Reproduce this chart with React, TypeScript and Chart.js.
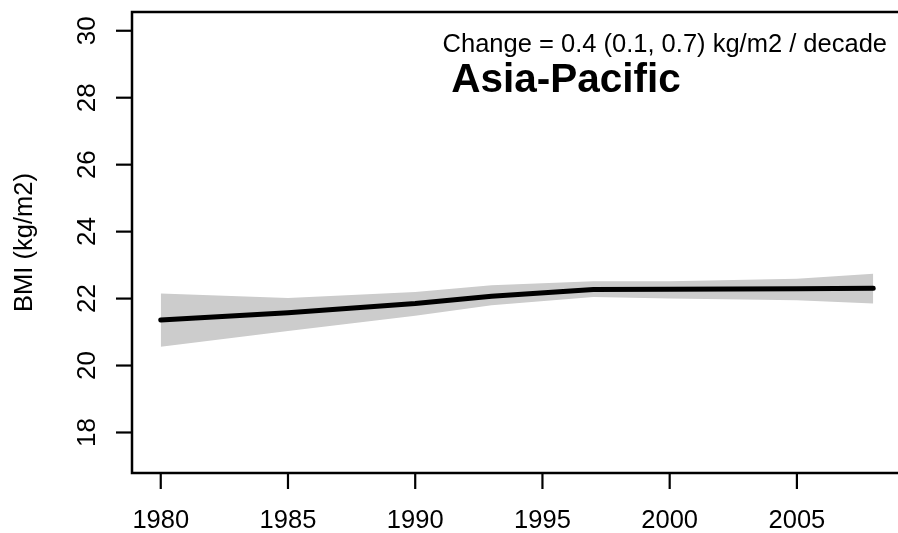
import React, { useEffect, useRef } from "react";
import { Chart, registerables } from "chart.js";

Chart.register(...registerables);

const years = [1980, 1985, 1990, 1993, 1997, 2000, 2005, 2008];
const bmiMean = [21.36, 21.58, 21.85, 22.07, 22.27, 22.28, 22.29, 22.31];
const bmiUpper = [22.15, 22.02, 22.2, 22.4, 22.52, 22.52, 22.59, 22.74];
const bmiLower = [20.56, 21.03, 21.49, 21.8, 22.05, 22.0, 21.95, 21.85];
const xTicks = [1980, 1985, 1990, 1995, 2000, 2005];
const yTicks = [18, 20, 22, 24, 26, 28, 30];
const regionTitle = "Asia-Pacific";
const changeText = "Change = 0.4 (0.1, 0.7) kg/m2 / decade";
const yTitle = "BMI (kg/m2)";

const FONT = "'Liberation Sans', Arial, Helvetica, sans-serif";

const axesPlugin = {
  id: "rAxes",
  afterDraw(chart: any) {
    const { ctx, chartArea } = chart;
    const xs = chart.scales.x;
    const ys = chart.scales.y;
    const { left, right, top, bottom } = chartArea;
    ctx.save();
    ctx.strokeStyle = "#000";
    ctx.fillStyle = "#000";
    ctx.lineWidth = 2.5;
    ctx.lineCap = "butt";
    // box
    ctx.strokeRect(left, top, right - left, bottom - top);
    // y ticks
    ctx.lineWidth = 2.2;
    ctx.textAlign = "center";
    ctx.textBaseline = "middle";
    ctx.font = `26px ${FONT}`;
    yTicks.forEach((v) => {
      const py = ys.getPixelForValue(v);
      ctx.beginPath();
      ctx.moveTo(left - 16, py);
      ctx.lineTo(left, py);
      ctx.stroke();
      ctx.save();
      ctx.translate(left - 45, py);
      ctx.rotate(-Math.PI / 2);
      ctx.fillText(String(v), 0, 1);
      ctx.restore();
    });
    // x ticks
    ctx.font = `25.5px ${FONT}`;
    xTicks.forEach((v) => {
      const px = xs.getPixelForValue(v);
      ctx.beginPath();
      ctx.moveTo(px, bottom);
      ctx.lineTo(px, bottom + 16);
      ctx.stroke();
      ctx.fillText(String(v), px, bottom + 48);
    });
    // y title
    ctx.save();
    ctx.font = `25.5px ${FONT}`;
    ctx.translate(left - 107, (top + bottom) / 2);
    ctx.rotate(-Math.PI / 2);
    ctx.fillText(yTitle, 0, 0);
    ctx.restore();
    // change text
    ctx.font = `25.5px ${FONT}`;
    ctx.textAlign = "right";
    ctx.fillText(changeText, 887, top + 33);
    // region title
    ctx.textAlign = "center";
    ctx.font = `bold 40.5px ${FONT}`;
    ctx.fillText(regionTitle, 566, top + 69);
    ctx.restore();
  },
};

export default function App() {
  const ref = useRef<HTMLCanvasElement | null>(null);
  useEffect(() => {
    if (!ref.current) return;
    const chart = new Chart(ref.current, {
      type: "line",
      data: {
        datasets: [
          {
            label: "BMI",
            data: years.map((x, i) => ({ x, y: bmiMean[i] })),
            borderWidth: 5,
            borderColor: "#000000",
            pointRadius: 0,
            fill: false,
            tension: 0,
            borderCapStyle: "round",
            borderJoinStyle: "round",
            order: 0,
          },
          {
            label: "upper",
            data: years.map((x, i) => ({ x, y: bmiUpper[i] })),
            borderWidth: 0,
            borderColor: "rgba(0,0,0,0)",
            backgroundColor: "#cccccc",
            pointRadius: 0,
            fill: "+1",
            tension: 0,
            order: 1,
          },
          {
            label: "lower",
            data: years.map((x, i) => ({ x, y: bmiLower[i] })),
            borderWidth: 0,
            borderColor: "rgba(0,0,0,0)",
            backgroundColor: "#cccccc",
            pointRadius: 0,
            fill: false,
            tension: 0,
            order: 2,
          },
        ],
      },
      options: {
        animation: false,
        responsive: false,
        devicePixelRatio: 1,
        layout: { padding: { left: 132, right: 8, top: 12, bottom: 60 } },
        plugins: { legend: { display: false }, tooltip: { enabled: false }, title: { display: false } },
        scales: {
          x: { type: "linear", min: 1978.87, max: 2009.13, display: false },
          y: { type: "linear", min: 16.79, max: 30.56, display: false },
        },
      },
      plugins: [axesPlugin],
    });
    return () => chart.destroy();
  }, []);
  return (
    <div style={{ position: "fixed", left: 0, top: 0, width: 898, height: 533, overflow: "hidden", background: "#fff" }}>
      <canvas ref={ref} width={910} height={533} style={{ display: "block", width: 910, height: 533 }} />
    </div>
  );
}
